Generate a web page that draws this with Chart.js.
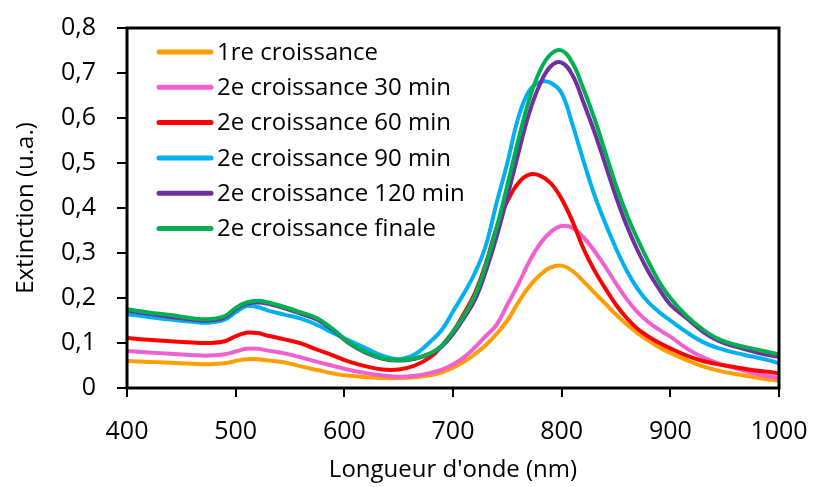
<!DOCTYPE html>
<html>
<head>
<meta charset="utf-8">
<script src="https://cdn.jsdelivr.net/npm/chart.js@4.4.1/dist/chart.umd.min.js"></script>
<style>
  html, body { margin: 0; padding: 0; background: #fff; }
</style>
</head>
<body>
<canvas id="chart" width="814" height="487"></canvas>
<script>
(() => {
  // longueurs d'onde (nm)
  const wavelengths = [400, 420, 440, 460, 475, 490, 500, 510, 520, 530, 545, 560, 575, 590, 605,
    620, 635, 650, 665, 680, 690, 700, 710, 720, 730, 740, 750, 760, 770, 780,
    790, 800, 810, 820, 830, 840, 850, 860, 870, 880, 890, 900, 915, 930, 945,
    960, 975, 990, 1000];

  const seriesNames = ["1re croissance", "2e croissance 30 min", "2e croissance 60 min",
    "2e croissance 90 min", "2e croissance 120 min", "2e croissance finale"];
  const seriesColors = ["#FF9E00", "#F25FCE", "#FF0000", "#00B0F0", "#7030A0", "#00B050"];

  const growth1 = [.060, .058, .056, .054, .053, .055, .060, .064, .064, .061, .057, .048, .040, .032, .027,
    .024, .022, .022, .024, .029, .035, .045, .058, .075, .095, .120, .150, .190, .225, .251,
    .268, .272, .260, .237, .212, .188, .163, .141, .122, .105, .090, .078, .062, .048, .038,
    .031, .025, .019, .016];
  const growth30 = [.082, .079, .076, .073, .072, .075, .081, .087, .087, .083, .077, .068, .058, .049, .040,
    .033, .028, .025, .027, .034, .041, .052, .068, .090, .115, .140, .185, .230, .280, .320,
    .347, .360, .356, .335, .305, .270, .232, .197, .168, .146, .129, .114, .088, .068, .054,
    .044, .034, .026, .022];
  const growth60 = [.111, .107, .104, .101, .100, .104, .115, .123, .122, .116, .108, .099, .085, .072, .058,
    .048, .041, .041, .050, .070, .095, .125, .165, .210, .275, .355, .415, .455, .474, .472,
    .455, .420, .370, .310, .262, .222, .185, .155, .131, .114, .100, .088, .072, .060, .052,
    .046, .040, .036, .032];
  const growth90 = [.164, .158, .152, .147, .145, .152, .168, .182, .180, .172, .163, .154, .140, .122, .105,
    .088, .072, .064, .075, .105, .130, .170, .210, .255, .315, .410, .500, .600, .660, .680,
    .678, .655, .585, .505, .430, .367, .310, .260, .220, .190, .168, .150, .124, .102, .088,
    .078, .070, .062, .055];
  const growth120 = [.172, .165, .158, .152, .150, .157, .175, .187, .190, .187, .177, .165, .152, .128, .098,
    .078, .065, .061, .065, .077, .093, .120, .155, .195, .258, .335, .425, .520, .610, .675,
    .715, .723, .695, .635, .570, .498, .425, .360, .305, .258, .219, .185, .155, .125, .104,
    .092, .082, .073, .069];
  const growthFinal = [.175, .168, .162, .155, .153, .160, .178, .190, .194, .190, .180, .168, .155, .130, .100,
    .080, .066, .062, .066, .078, .095, .125, .160, .205, .272, .355, .450, .550, .640, .705,
    .742, .750, .722, .665, .600, .525, .450, .385, .330, .280, .235, .200, .160, .130, .108,
    .096, .088, .080, .075];

  const xTickLabels = ["400", "500", "600", "700", "800", "900", "1000"];
  const yTickLabels = ["0", "0,1", "0,2", "0,3", "0,4", "0,5", "0,6", "0,7", "0,8"];

  const allSeries = [growth1, growth30, growth60, growth90, growth120, growthFinal];
  const font = "'Open Sans', 'DejaVu Sans', sans-serif";

  const datasets = allSeries.map((vals, i) => ({
    label: seriesNames[i],
    data: wavelengths.map((w, k) => ({ x: w, y: vals[k] })),
    borderColor: seriesColors[i],
    backgroundColor: seriesColors[i],
    borderWidth: 4,
    pointRadius: 0,
    tension: 0.4,
    order: allSeries.length - i   // la dernière série est dessinée au-dessus
  }));

  // cadre noir autour de la zone de tracé + légende dans le graphe
  const framePlugin = {
    id: "frame",
    afterDatasetsDraw(chart) {
      const { ctx, chartArea: a } = chart;
      ctx.save();
      ctx.strokeStyle = "#000";
      ctx.lineWidth = 3;
      ctx.strokeRect(a.left, a.top, a.right - a.left, a.bottom - a.top);
      ctx.restore();
    },
    afterDraw(chart) {
      const { ctx } = chart;
      ctx.save();
      ctx.font = "24px " + font;
      ctx.textBaseline = "middle";
      ctx.fillStyle = "#000";
      chart.data.datasets.forEach((d, i) => {
        const y = 52 + i * 35.3;
        ctx.strokeStyle = d.borderColor;
        ctx.lineWidth = 5;
        ctx.lineCap = "round";
        ctx.beginPath();
        ctx.moveTo(159, y);
        ctx.lineTo(211, y);
        ctx.stroke();
        ctx.fillText(d.label, 217, y + 1);
      });
      ctx.restore();
    }
  };

  new Chart(document.getElementById("chart"), {
    type: "line",
    data: { datasets },
    options: {
      responsive: false,
      animation: false,
      layout: { padding: { left: 0, right: 35, top: 28, bottom: 0 } },
      plugins: { legend: { display: false }, tooltip: { enabled: false } },
      scales: {
        x: {
          type: "linear",
          min: 400, max: 1000,
          afterFit: (s) => { s.height = 99; s.paddingLeft = 0; s.paddingRight = 0; },
          border: { display: false },
          grid: { drawOnChartArea: false, drawTicks: true, tickLength: 9, color: "#000", lineWidth: 2 },
          ticks: {
            stepSize: 100,
            color: "#000",
            font: { family: font, size: 25 },
            padding: 20,
            maxRotation: 0,
            callback: (v) => xTickLabels[Math.round((v - 400) / 100)]
          },
          title: {
            display: true,
            text: "Longueur d'onde (nm)",
            color: "#000",
            font: { family: font, size: 24 },
            padding: { top: 0, bottom: 2 }
          }
        },
        y: {
          min: 0, max: 0.8,
          afterFit: (s) => { s.width = 127; s.paddingTop = 0; s.paddingBottom = 0; },
          border: { display: false },
          grid: { drawOnChartArea: false, drawTicks: true, tickLength: 10, color: "#000", lineWidth: 2 },
          ticks: {
            stepSize: 0.1,
            color: "#000",
            font: { family: font, size: 25 },
            padding: 21,
            callback: (v) => yTickLabels[Math.round(v * 10)]
          },
          title: {
            display: true,
            text: "Extinction (u.a.)",
            color: "#000",
            font: { family: font, size: 24 },
            padding: { top: 12, bottom: 0 }
          }
        }
      }
    },
    plugins: [framePlugin]
  });
})();
</script>
</body>
</html>
